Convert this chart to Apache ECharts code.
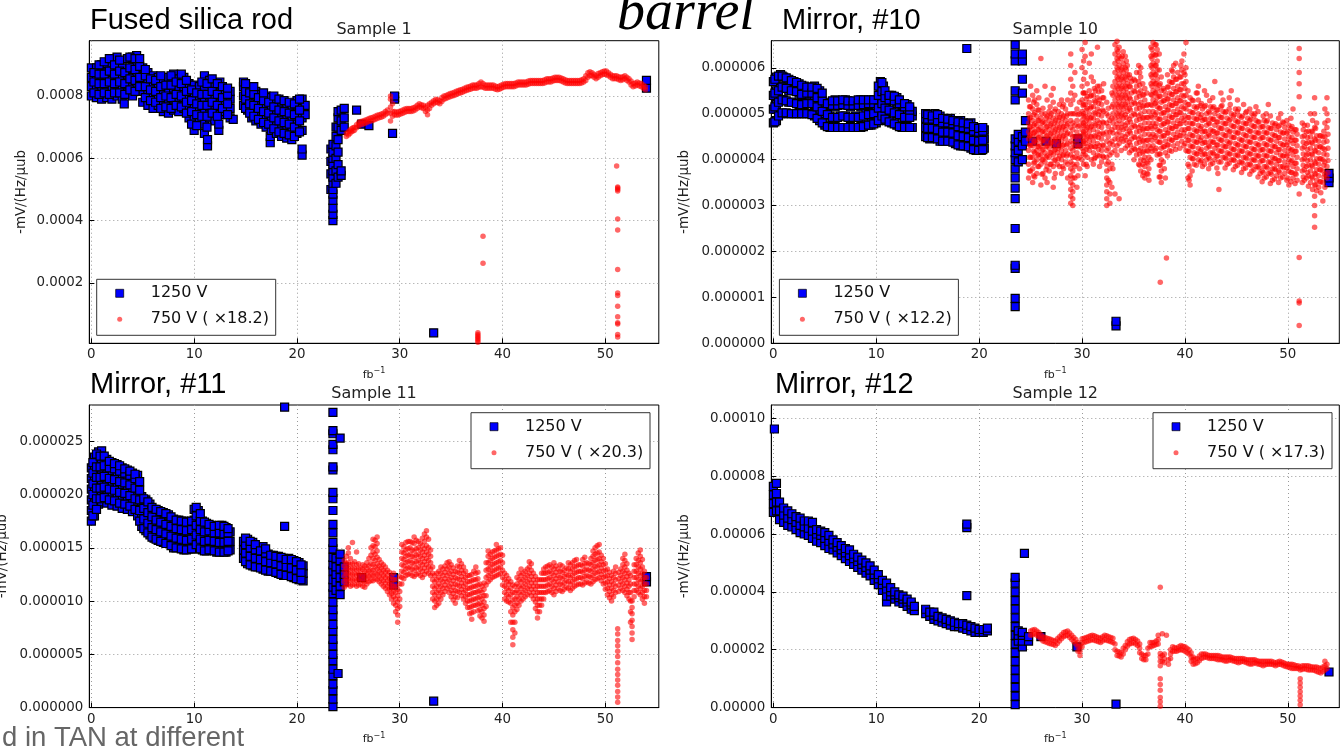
<!DOCTYPE html>
<html>
<head>
<meta charset="utf-8">
<title>Samples 1, 10, 11, 12</title>
<script src="https://cdn.jsdelivr.net/npm/echarts@6/dist/echarts.min.js"></script>
<style>
html, body { margin: 0; padding: 0; background: #fff; }
#main { width: 1340px; height: 746px; }
</style>
</head>
<body>
<div id="main"></div>
<script>
// tick labels
var xTicks = [0, 10, 20, 30, 40, 50];
var s1Ticks = [0.0002, 0.0004, 0.0006, 0.0008];
var s10Ticks = [0, 0.000001, 0.000002, 0.000003, 0.000004, 0.000005, 0.000006];
var s11Ticks = [0, 0.000005, 0.00001, 0.000015, 0.00002, 0.000025];
var s12Ticks = [0, 0.00002, 0.00004, 0.00006, 0.00008, 0.0001];

// data: [fb^-1, [values...]], values in units of 1e-4 / 1e-6 / 1e-5
// Sample 1 (fused silica rod), unit 1e-4
var s1Blue = [
  [0.0,[8.0,8.3,8.6,8.9]],[0.5,[7.95,8.25,8.55,8.9]],[1.0,[7.9,8.2,8.5,8.8,9.0]],[1.5,[7.95,8.3,8.6,9.05]],
  [2.0,[7.9,8.2,8.5,8.8,9.2]],[2.5,[8.0,8.35,8.7,9.25]],[3.0,[7.9,8.2,8.55,8.9]],[3.2,[7.75]],
  [3.5,[8.1,8.4,8.7,9.2]],[4.0,[8.0,8.3,8.6,8.9,9.25]],[4.4,[8.4,8.7,9.0,9.3]],[5.0,[7.8,8.15,8.5,8.9]],
  [5.5,[7.7,8.05,8.4,8.75]],[6.0,[7.6,7.95,8.3,8.65]],[6.5,[7.7,8.0,8.35,8.6]],[7.0,[7.5,7.85,8.2,8.55]],
  [7.5,[7.45,7.8,8.15,8.6]],[8.0,[7.55,7.9,8.25,8.7]],[8.5,[7.5,7.85,8.2,8.55]],[9.0,[7.6,7.95,8.3,8.6]],
  [9.5,[7.3,7.65,8.0,8.4]],[10.0,[6.9,7.3,7.65,8.0,8.35]],[10.5,[7.2,7.55,7.9,8.3]],
  [11.0,[6.8,7.1,7.5,7.85,8.2,8.65]],[11.3,[6.4,6.6]],[11.5,[7.3,7.65,8.0,8.5]],[12.0,[7.2,7.55,7.9,8.3]],
  [12.4,[6.9,7.1]],[12.5,[7.4,7.75,8.1,8.45]],[13.0,[7.5,7.85,8.2]],[13.5,[7.3,7.6,7.9,8.15]],[13.8,[7.25]],
  [14.8,[7.7,8.0,8.3,8.45]],[15.2,[7.55,7.9,8.25]],[15.6,[7.3,7.6,7.95,8.2]],[16.0,[7.2,7.55,7.9,8.15]],
  [16.5,[7.1,7.4,7.75,8.05]],[17.0,[7.0,7.35,7.7,8.0]],[17.4,[6.5,6.7]],[17.5,[6.9,7.25,7.6,7.95]],
  [18.0,[6.8,7.15,7.5,7.9]],[18.5,[6.7,7.05,7.4,7.8]],[19.0,[6.65,7.0,7.35,7.75]],[19.5,[6.6,6.95,7.3,7.7]],
  [20.0,[6.8,7.1,7.45,7.85]],[20.5,[6.1,6.3,6.9,7.3,7.6,7.9]],[20.8,[7.4,7.7]],
  [0.25,[8.1,8.45,8.75]],[0.75,[8.05,8.4,8.7,9.0]],[1.25,[8.1,8.4,8.7,9.1]],[1.75,[8.05,8.45,8.8,9.2]],
  [2.25,[8.1,8.4,8.7,9.0]],[2.75,[8.1,8.45,8.8,9.15]],[3.25,[8.05,8.4,8.75]],[3.75,[8.2,8.55,8.9,9.25]],
  [4.25,[8.15,8.5,8.85,9.2]],[4.7,[8.3,8.6,8.95,9.2]],[5.25,[7.95,8.3,8.65,8.85]],[5.75,[7.85,8.2,8.55]],
  [6.25,[7.8,8.15,8.5]],[6.75,[7.6,7.95,8.3,8.65]],[7.25,[7.65,8.0,8.35]],[7.75,[7.6,7.95,8.35,8.65]],
  [8.25,[7.7,8.05,8.45]],[8.75,[7.65,8.0,8.4,8.7]],[9.25,[7.45,7.8,8.15,8.5]],[9.75,[7.1,7.5,7.85,8.2]],
  [10.25,[7.05,7.4,7.75,8.1]],[10.75,[7.35,7.7,8.05,8.45]],[11.25,[7.0,7.35,7.7,8.05,8.4]],
  [11.75,[7.45,7.8,8.15,8.55]],[12.25,[7.35,7.7,8.05,8.4]],[12.75,[7.6,7.95,8.3]],[13.25,[7.4,7.75,8.05,8.25]],
  [15.0,[7.6,7.9,8.15,8.4]],[15.4,[7.45,7.75,8.1]],[15.8,[7.35,7.7,8.05,8.3]],[16.25,[7.25,7.6,7.95]],
  [16.75,[7.15,7.5,7.85,8.1]],[17.25,[7.1,7.45,7.8]],[17.75,[6.95,7.3,7.65,8.0]],[18.25,[6.85,7.2,7.55,7.9]],
  [18.75,[6.8,7.15,7.5,7.85]],[19.25,[6.75,7.1,7.45,7.8]],[19.75,[6.7,7.0,7.4,7.75]],[20.25,[6.85,7.2,7.55,7.9]],
  [23.3,[5.0,5.5,5.9,6.3]],[23.5,[4.0,4.2,4.4,4.65,4.85,5.0,5.2,5.4,5.6,5.8,6.0,6.2,6.45]],
  [23.8,[5.2,5.6,6.0,6.4,6.7,7.0]],[24.0,[5.4,5.8,6.2,6.6,7.0,7.3,7.5]],[24.3,[5.45,5.6,6.9,7.2,7.55]],
  [24.6,[7.0,7.3,7.6]],[25.8,[7.55]],[26.3,[7.1]],[27.0,[7.05]],[29.3,[6.8]],[29.5,[7.9,8.0]],
  [33.3,[0.4]],[54.0,[8.25,8.5]]
];
var s1Red = [
  [24.8,[6.7,6.8]],[25.0,[6.75,6.85]],[25.3,[6.85,6.95]],[25.6,[6.9,7.0]],[26.0,[7.05,7.15]],[26.4,[7.1,7.2]],
  [26.8,[7.15,7.25]],[27.2,[7.2,7.3]],[27.6,[7.25,7.35]],[28.0,[7.3,7.4]],[28.4,[7.35,7.45]],[28.8,[7.45,7.55]],
  [29.1,[7.2,7.45,7.65,7.9,8.0]],[29.5,[7.4,7.5]],[29.9,[7.4,7.5]],[30.3,[7.45,7.55]],[30.7,[7.5,7.6]],
  [31.1,[7.5,7.6]],[31.5,[7.55,7.65]],[31.9,[7.65,7.75]],[32.3,[7.6,7.7]],[32.7,[7.4,7.55,7.7]],
  [33.1,[7.7,7.8]],[33.5,[7.8,7.9]],[33.9,[7.75,7.85]],[34.3,[7.9,8.0]],[34.7,[7.95,8.05]],[35.1,[8.0,8.1]],
  [35.5,[8.05,8.15]],[35.9,[8.1,8.2]],[36.3,[8.15,8.25]],[36.7,[8.2,8.3]],[37.1,[8.25,8.35]],[37.5,[8.25,8.35]],
  [37.9,[8.3,8.45]],[38.3,[8.25,8.35]],[38.7,[8.25,8.35]],[39.1,[8.25,8.35]],[39.5,[8.2,8.3]],[39.9,[8.25,8.35]],
  [40.3,[8.3,8.4]],[40.7,[8.3,8.4]],[41.1,[8.3,8.4]],[41.5,[8.35,8.45]],[41.9,[8.35,8.45]],[42.3,[8.35,8.45]],
  [42.7,[8.4,8.5]],[43.1,[8.4,8.5]],[43.5,[8.4,8.5]],[43.9,[8.4,8.5]],[44.3,[8.45,8.55]],[44.7,[8.45,8.55]],
  [45.1,[8.5,8.6]],[45.5,[8.5,8.6]],[45.9,[8.45,8.55]],[46.3,[8.4,8.5]],[46.7,[8.4,8.5]],[47.1,[8.4,8.5]],
  [47.5,[8.4,8.5]],[47.9,[8.45,8.55]],[48.3,[8.6,8.75]],[48.7,[8.65,8.75]],[49.1,[8.55,8.65]],[49.5,[8.65,8.75]],
  [49.9,[8.7,8.8]],[50.3,[8.65,8.75]],[50.7,[8.55,8.65]],[51.1,[5.75,8.55,8.65]],[51.5,[8.5,8.6]],
  [51.9,[8.55,8.65]],[52.3,[8.45,8.55]],[52.7,[8.3,8.4]],[53.1,[8.35,8.45]],[53.5,[8.3,8.4]],[53.9,[8.2,8.3]],
  [25.15,[6.8,6.9]],[25.45,[6.88,6.98]],[25.8,[6.98,7.08]],[26.2,[7.08,7.18]],[26.6,[7.12,7.22]],[27.0,[7.18,7.28]],
  [27.4,[7.22,7.32]],[27.8,[7.28,7.38]],[28.2,[7.32,7.42]],[28.6,[7.4,7.5]],[29.3,[7.35,7.5,7.75]],[29.7,[7.38,7.48]],
  [30.1,[7.42,7.52]],[30.5,[7.48,7.58]],[30.9,[7.5,7.6]],[31.3,[7.52,7.62]],[31.7,[7.6,7.7]],[32.1,[7.62,7.72]],
  [32.5,[7.5,7.65]],[32.9,[7.6,7.75]],[33.3,[7.75,7.85]],[33.7,[7.78,7.88]],[34.1,[7.82,7.95]],[34.5,[7.92,8.02]],
  [34.9,[7.98,8.08]],[35.3,[8.02,8.12]],[35.7,[8.08,8.18]],[36.1,[8.12,8.22]],[36.5,[8.18,8.28]],[36.9,[8.22,8.32]],
  [37.3,[8.25,8.35]],[37.7,[8.28,8.4]],[38.1,[8.28,8.4]],[38.5,[8.25,8.35]],[38.9,[8.25,8.35]],[39.3,[8.22,8.32]],
  [39.7,[8.22,8.32]],[40.1,[8.28,8.38]],[40.5,[8.3,8.4]],[40.9,[8.3,8.4]],[41.3,[8.32,8.42]],[41.7,[8.35,8.45]],
  [42.1,[8.35,8.45]],[42.5,[8.38,8.48]],[42.9,[8.4,8.5]],[43.3,[8.4,8.5]],[43.7,[8.4,8.5]],[44.1,[8.42,8.52]],
  [44.5,[8.45,8.55]],[44.9,[8.48,8.58]],[45.3,[8.5,8.6]],[45.7,[8.48,8.58]],[46.1,[8.42,8.52]],[46.5,[8.4,8.5]],
  [46.9,[8.4,8.5]],[47.3,[8.4,8.5]],[47.7,[8.42,8.52]],[48.1,[8.5,8.65]],[48.5,[8.65,8.78]],[48.9,[8.6,8.7]],
  [49.3,[8.6,8.72]],[49.7,[8.68,8.78]],[50.1,[8.68,8.8]],[50.5,[8.6,8.7]],[50.9,[8.55,8.65]],[51.3,[8.52,8.62]],
  [51.7,[8.52,8.62]],[52.1,[8.5,8.6]],[52.5,[8.35,8.48]],[52.9,[8.32,8.42]],[53.3,[8.32,8.42]],[53.7,[8.25,8.35]],
  [37.6,[0.1,0.15,0.2,0.25,0.3,0.35,0.4]],[38.1,[2.63,3.5]],
  [51.2,[0.27,0.35,0.68,0.72,0.92,1.25,1.6,1.68,2.43,3.7,4.05,4.95,5.0,5.05,5.08]]
];

// Sample 10 (mirror #10), unit 1e-6
var s10Blue = [
  [0.0,[4.8,5.1,5.4,5.7]],[0.3,[4.85,5.2,5.5,5.8]],[0.7,[5.0,5.3,5.55,5.85]],[1.0,[5.0,5.3,5.6,5.8]],
  [1.5,[5.0,5.25,5.5,5.75]],[2.0,[5.0,5.25,5.5,5.7]],[2.5,[5.0,5.2,5.45,5.65]],[3.0,[5.0,5.2,5.4,5.6]],
  [3.5,[5.0,5.25,5.5]],[4.0,[4.95,5.2,5.4,5.6]],[4.5,[4.85,5.1,5.3,5.5]],[5.0,[4.75,5.0,5.25]],
  [5.5,[4.7,4.95,5.2]],[6.0,[4.7,4.9,5.15,5.3]],[6.5,[4.7,4.95,5.2]],[7.0,[4.7,4.95,5.2,5.3]],
  [7.5,[4.7,4.9,5.15,5.25]],[8.0,[4.7,4.95,5.2]],[8.5,[4.7,4.9,5.15,5.3]],[9.0,[4.75,5.0,5.25]],
  [9.5,[4.75,4.95,5.2,5.3]],[10.0,[4.8,5.05,5.25]],[10.4,[5.0,5.3,5.55,5.7]],[10.7,[4.9,5.15,5.4,5.6]],
  [11.0,[4.85,5.1,5.3]],[11.5,[4.8,5.05,5.3,5.4]],[12.0,[4.75,5.0,5.25,5.35]],[12.5,[4.7,4.95,5.2]],
  [13.0,[4.7,4.9,5.1,5.2]],[13.5,[4.7,4.95,5.05]],[14.8,[4.5,4.7,4.9,5.0]],[15.2,[4.45,4.65,4.85]],
  [15.7,[4.5,4.7,4.9,5.0]],[16.2,[4.4,4.6,4.8,4.95]],[16.7,[4.4,4.6,4.8]],[17.2,[4.4,4.6,4.8,4.9]],
  [17.7,[4.35,4.55,4.75]],[18.2,[4.3,4.5,4.7,4.85]],[18.7,[4.3,4.5,4.7]],[18.8,[6.42]],
  [19.2,[4.25,4.45,4.65,4.8]],[19.7,[4.2,4.4,4.6]],[20.2,[4.2,4.4,4.6,4.7]],[20.5,[4.25,4.45,4.65]],
  [0.15,[4.82,5.15,5.45,5.75]],[0.5,[4.95,5.25,5.5,5.82]],[0.85,[5.02,5.3,5.58,5.82]],[1.25,[5.02,5.28,5.55,5.78]],
  [1.75,[5.0,5.25,5.5,5.72]],[2.25,[5.0,5.22,5.48,5.68]],[2.75,[5.0,5.2,5.42,5.62]],[3.25,[5.0,5.22,5.45,5.58]],
  [3.75,[4.98,5.22,5.45,5.58]],[4.25,[4.9,5.15,5.35,5.55]],[4.75,[4.8,5.05,5.28,5.45]],[5.25,[4.72,4.98,5.22]],
  [5.75,[4.7,4.92,5.18,5.28]],[6.25,[4.7,4.92,5.18,5.28]],[6.75,[4.7,4.95,5.2,5.3]],[7.25,[4.7,4.92,5.18,5.28]],
  [7.75,[4.7,4.92,5.18,5.28]],[8.25,[4.7,4.92,5.18,5.3]],[8.75,[4.72,4.95,5.2,5.3]],[9.25,[4.75,4.98,5.22,5.3]],
  [9.75,[4.78,5.0,5.22,5.3]],[10.2,[4.85,5.12,5.4,5.6]],[10.55,[4.95,5.22,5.48,5.68]],[10.85,[4.88,5.12,5.35,5.5]],
  [11.25,[4.82,5.08,5.3,5.4]],[11.75,[4.78,5.02,5.28,5.38]],[12.25,[4.72,4.98,5.22,5.3]],[12.75,[4.7,4.92,5.15,5.22]],
  [13.25,[4.7,4.92,5.08,5.15]],[15.0,[4.48,4.68,4.88,4.98]],[15.45,[4.48,4.68,4.88,4.95]],[15.95,[4.45,4.65,4.85,4.98]],
  [16.45,[4.4,4.6,4.8,4.9]],[16.95,[4.4,4.6,4.8,4.88]],[17.45,[4.38,4.58,4.78,4.85]],[17.95,[4.32,4.52,4.72,4.82]],
  [18.45,[4.3,4.5,4.7,4.8]],[18.95,[4.28,4.48,4.68,4.78]],[19.45,[4.22,4.42,4.62,4.72]],[19.95,[4.2,4.4,4.6,4.68]],
  [20.35,[4.22,4.42,4.62,4.7]],
  [23.5,[0.8,0.98,1.63,1.7,2.5,3.15,3.38,3.6,3.8,4.0,4.15,4.3,4.45,5.3,5.5,6.15,6.3,6.5,6.6]],
  [23.8,[3.95,4.2,4.4,4.55]],[24.2,[4.0,4.3,4.5,5.45,5.75,6.15,6.3]],[24.5,[4.4,4.6,4.85]],
  [25.2,[4.4]],[26.5,[4.4]],[27.5,[4.35]],[29.6,[4.35,4.45]],[33.3,[0.38,0.48]],[54.0,[3.5,3.6,3.7]]
];
var s10Red = [
  [24.8,[3.6,3.9,4.2,4.45,4.6,4.8,5.0,5.3]],[25.2,[3.5,3.8,4.05,4.3,4.5,4.65,4.85,5.1,5.4]],
  [25.6,[3.7,4.0,4.2,4.35,4.55,4.75,4.95,5.2,5.5]],[26.0,[3.45,3.9,4.1,4.3,4.5,4.7,4.9,6.2]],
  [26.4,[3.6,3.95,4.15,4.4,4.6,4.8,5.0,5.6]],[26.8,[3.75,4.05,4.25,4.45,4.65,4.85,5.05]],
  [27.2,[3.4,3.85,4.1,4.3,4.5,4.7,4.9,5.25,5.55]],[27.6,[3.9,4.15,4.35,4.55,4.75,4.95]],
  [28.0,[3.7,4.0,4.2,4.4,4.6,4.8,5.0,5.3]],[28.4,[3.95,4.2,4.45,4.65,4.85,5.1]],
  [28.9,[3.05,3.2,3.35,3.5,3.65,3.8,3.95,4.1,4.25,4.4,4.55,4.7,4.85,5.0,5.2,5.45,5.75,6.05,6.3]],
  [29.1,[3.0,3.15,3.3,3.45,3.6,3.75,3.9,4.05,4.2,4.35,4.5,4.65,4.8,5.0,5.3,5.6]],
  [29.5,[3.4,3.9,4.15,4.4,4.6,4.85,5.1]],[30.0,[4.0,4.25,4.45,4.65,4.85,5.05,5.3,5.6,6.0,6.4,6.6]],
  [30.3,[3.65,4.1,4.35,4.55,4.75,4.95,5.2,5.45,5.9,6.25,6.55]],[30.7,[4.2,4.4,4.6,4.8,5.0,5.25,5.5,6.1]],
  [31.1,[3.9,4.15,4.4,4.65,4.9,5.15,5.4,5.7]],[31.5,[4.1,4.35,4.6,4.85,5.1,5.35,5.6,6.45]],
  [31.9,[3.95,4.2,4.45,4.7,4.95,5.2,5.5]],
  [32.4,[3.0,3.15,3.3,3.45,3.6,3.75,3.9,4.05,4.2,4.4,4.6,4.8,5.0,5.25]],
  [32.7,[3.05,3.25,3.5,3.8,4.1,4.35,4.6,4.85]],
  [33.2,[3.25,4.2,4.45,4.7,4.9,5.1,5.3,5.5,5.7,5.9,6.1,6.3,6.5]],
  [33.6,[3.15,4.35,4.6,4.85,5.05,5.25,5.45,5.65,5.85,6.05,6.25,6.45]],
  [34.0,[4.4,4.65,4.9,5.1,5.3,5.5,5.7,5.9,6.1,6.35]],[34.4,[4.3,4.55,4.8,5.05,5.25,5.45,5.65,5.85,6.05]],
  [34.8,[4.2,4.45,4.7,4.95,5.2,5.45,5.7]],[35.3,[4.1,4.35,4.6,4.85,5.1,5.35,5.6,5.9]],
  [35.7,[3.75,4.0,4.25,4.5,4.75,5.0,5.25,5.5,5.8,6.0]],[36.1,[3.6,3.85,4.05,4.3,4.55,4.8,5.05,5.3,5.55]],
  [36.5,[3.55,3.8,4.05,4.3,4.55,4.8,5.05]],[36.9,[4.3,4.55,4.8,5.05,5.3,5.5,5.7,5.9,6.1,6.3,6.55]],
  [37.3,[4.1,4.4,4.65,4.9,5.15,5.35,5.55,5.75,5.95,6.15,6.4,6.6]],
  [37.7,[3.5,3.75,4.0,4.25,4.5,4.75,5.0,5.25,5.5,5.8]],[38.1,[3.6,4.15,4.4,4.65,4.9,5.15,5.4]],
  [38.5,[4.2,4.45,4.7,4.95,5.2,5.45,5.7]],[38.9,[4.3,4.55,4.8,5.05,5.3,5.55,5.8,6.05]],
  [39.3,[4.35,4.6,4.85,5.1,5.35,5.6,5.9]],[39.7,[4.4,4.65,4.9,5.15,5.4,5.65,5.95,6.15]],
  [40.1,[4.2,4.5,4.8,5.1,5.4,5.7,6.0,6.55]],[40.5,[3.45,3.65,4.05,4.3,4.55,4.8,5.05,5.35]],
  [40.9,[3.9,4.15,4.4,4.65,4.9,5.15]],[41.3,[4.0,4.25,4.5,4.75,5.0,5.3,5.6]],
  [41.7,[3.85,4.1,4.35,4.6,4.85,5.1]],[42.1,[4.0,4.25,4.5,4.75,5.0,5.4]],[42.5,[3.9,4.15,4.4,4.65,4.9,5.15]],
  [42.9,[4.0,4.25,4.5,4.75,5.0,5.7]],[43.3,[3.35,3.95,4.2,4.45,4.7,4.95]],[43.7,[4.05,4.3,4.55,4.8,5.05,5.3]],
  [44.1,[3.9,4.15,4.4,4.65,4.9]],[44.5,[4.0,4.25,4.5,4.75,5.0,5.5]],[44.9,[3.85,4.1,4.35,4.6,4.85,5.1]],
  [45.3,[3.95,4.2,4.45,4.7,4.95]],[45.7,[3.8,4.05,4.3,4.55,4.8,5.2]],[46.1,[3.9,4.15,4.4,4.65,4.9]],
  [46.5,[3.75,4.0,4.25,4.5,4.75,5.0]],[46.9,[3.85,4.1,4.35,4.6,4.85,5.15]],[47.3,[3.7,3.95,4.2,4.45,4.7]],
  [47.7,[3.6,3.85,4.1,4.35,4.6,4.85]],[48.1,[3.7,3.95,4.2,4.45,4.7,5.2]],[48.5,[3.55,3.8,4.05,4.3,4.55,4.8]],
  [48.9,[3.65,3.9,4.15,4.4,4.65]],[49.3,[3.6,3.85,4.1,4.35,4.6,5.0]],[49.7,[3.7,3.95,4.2,4.45,4.7]],
  [50.1,[3.45,3.75,4.0,4.25,4.5,4.75]],[50.5,[3.6,3.85,4.1,4.35,4.6,5.1]],[50.9,[3.55,3.8,4.05,4.3,4.55]],
  [51.1,[0.39,0.88,0.92,1.87,3.25,5.37,5.65,5.9,6.2,6.42]],[51.4,[3.5,3.75,4.0,4.25,4.5,4.8]],
  [51.8,[3.6,3.85,4.1,4.35,4.6]],[52.2,[3.5,3.75,4.0,4.25,4.5,5.0]],
  [52.6,[2.53,2.78,3.0,3.2,3.45,3.7,3.95,4.2,4.45,4.7,5.0,5.35]],[53.0,[3.4,3.65,3.9,4.15,4.4]],
  [53.4,[3.1,3.5,3.75,4.0,4.25,4.5]],[53.8,[3.6,3.85,4.1,4.4,4.7,5.0,5.35]],
  [25.0,[3.75,4.05,4.3,4.55,4.72,4.92,5.15,5.6]],[25.4,[3.62,3.95,4.15,4.4,4.6,4.78,5.02,5.3]],
  [25.8,[3.85,4.1,4.28,4.48,4.65,4.85,5.08,5.35]],[26.2,[3.7,4.0,4.22,4.42,4.62,4.82,5.12]],
  [26.6,[3.5,3.85,4.08,4.3,4.52,4.72,4.95,5.3]],[27.0,[3.9,4.15,4.38,4.58,4.78,5.0,5.4]],
  [27.4,[3.7,4.0,4.22,4.45,4.65,4.85,5.1]],[27.8,[3.85,4.08,4.3,4.5,4.7,4.92,5.2]],
  [28.2,[3.8,4.1,4.32,4.52,4.72,4.95,5.2]],[28.6,[3.6,3.9,4.12,4.35,4.58,4.78,5.0,5.3]],
  [29.3,[3.6,3.85,4.05,4.28,4.5,4.75,5.0,5.4,5.9]],[29.75,[3.8,4.05,4.3,4.52,4.75,5.0,5.25]],
  [30.15,[3.9,4.18,4.4,4.6,4.8,5.0,5.2,5.45,5.75,6.15]],[30.5,[3.85,4.05,4.28,4.5,4.7,4.9,5.12,5.38,5.65]],
  [30.9,[4.0,4.28,4.5,4.72,4.92,5.15,5.4,5.8,6.3]],[31.3,[4.05,4.28,4.5,4.75,5.0,5.25,5.5]],
  [31.7,[3.85,4.08,4.3,4.55,4.8,5.05,5.3,5.6]],[32.1,[4.05,4.3,4.55,4.8,5.05,5.35,5.65]],
  [32.9,[3.4,3.9,4.15,4.4,4.65,4.9,5.15,5.45]],
  [33.4,[4.1,4.3,4.55,4.78,5.0,5.2,5.4,5.6,5.8,6.0,6.2,6.4,6.58]],
  [33.8,[4.2,4.45,4.7,4.95,5.15,5.35,5.55,5.75,5.95,6.2]],[34.2,[4.25,4.5,4.75,4.98,5.2,5.4,5.6,5.8,6.0,6.25]],
  [34.6,[4.15,4.38,4.62,4.88,5.12,5.35,5.6,5.85]],[35.05,[4.0,4.25,4.5,4.75,5.0,5.25,5.5,5.75]],
  [35.5,[3.9,4.2,4.45,4.7,4.95,5.2,5.45,5.7,6.05]],[35.9,[3.65,3.9,4.15,4.4,4.65,4.9,5.15,5.4,5.65]],
  [36.3,[3.7,3.95,4.2,4.42,4.68,4.92,5.18,5.45]],[36.7,[4.0,4.25,4.5,4.72,4.95,5.2,5.42,5.65,5.85,6.05,6.25,6.45]],
  [37.1,[4.2,4.48,4.72,4.98,5.22,5.45,5.65,5.85,6.05,6.28,6.5]],
  [37.5,[3.62,3.88,4.12,4.38,4.62,4.88,5.12,5.38,5.62,5.95,6.3]],[37.9,[3.95,4.28,4.52,4.78,5.02,5.28,5.55]],
  [38.3,[4.08,4.32,4.58,4.82,5.08,5.32,5.58,5.85]],[38.7,[4.18,4.42,4.68,4.92,5.18,5.42,5.68,5.95]],
  [39.1,[4.22,4.48,4.72,4.98,5.22,5.48,5.75,6.1]],[39.5,[4.25,4.52,4.78,5.02,5.28,5.52,5.8]],
  [39.9,[4.3,4.58,4.85,5.12,5.38,5.65,5.9,6.3]],[40.3,[3.6,3.9,4.18,4.42,4.68,4.92,5.2,5.5]],
  [40.7,[3.75,4.02,4.28,4.52,4.78,5.02,5.3]],[41.1,[3.88,4.12,4.38,4.62,4.88,5.12,5.45]],
  [41.5,[3.95,4.18,4.42,4.68,4.92,5.18]],[41.9,[3.9,4.12,4.38,4.62,4.88,5.15,5.5]],
  [42.3,[3.8,4.05,4.3,4.55,4.8,5.05]],[42.7,[3.92,4.15,4.38,4.62,4.88,5.12,5.35]],
  [43.1,[3.82,4.08,4.32,4.58,4.82,5.08]],[43.5,[3.95,4.18,4.42,4.68,4.92,5.15,5.45]],
  [43.9,[3.82,4.05,4.28,4.52,4.78,5.02]],[44.3,[3.92,4.12,4.35,4.6,4.85,5.1,5.35]],
  [44.7,[3.78,4.0,4.22,4.48,4.72,4.95]],[45.1,[3.88,4.1,4.32,4.58,4.82,5.05,5.3]],
  [45.5,[3.72,3.95,4.18,4.42,4.68,4.92]],[45.9,[3.82,4.05,4.28,4.52,4.78,5.02]],
  [46.3,[3.68,3.9,4.12,4.38,4.62,4.85,5.1]],[46.7,[3.78,4.0,4.22,4.48,4.72,4.95]],
  [47.1,[3.62,3.85,4.08,4.32,4.58,4.82,5.05]],[47.5,[3.52,3.75,3.98,4.22,4.48,4.72]],
  [47.9,[3.62,3.85,4.08,4.32,4.58,4.82,5.0]],[48.3,[3.48,3.72,3.95,4.18,4.42,4.68,4.95]],
  [48.7,[3.58,3.8,4.02,4.28,4.52,4.75]],[49.1,[3.5,3.75,3.98,4.22,4.48,4.72,4.9]],
  [49.5,[3.62,3.85,4.08,4.32,4.58,4.82]],[49.9,[3.55,3.82,4.08,4.32,4.58,4.85]],
  [50.3,[3.52,3.72,3.95,4.2,4.42,4.68,4.9]],[50.7,[3.48,3.7,3.92,4.18,4.42,4.65]],
  [51.6,[3.55,3.78,4.02,4.28,4.52,4.75]],[52.0,[3.42,3.65,3.88,4.12,4.38,4.62]],
  [52.4,[3.35,3.6,3.85,4.1,4.35,4.6,4.85]],[52.8,[3.32,3.55,3.78,4.02,4.28,4.52,4.8]],
  [53.2,[3.28,3.52,3.78,4.02,4.28,4.52]],[53.6,[3.4,3.68,3.95,4.22,4.5,4.8,5.1]],
  [24.9,[3.75,4.05,4.32,4.52,4.7,4.9,5.15]],[25.3,[3.65,3.92,4.18,4.4,4.58,4.75,4.98,5.25]],
  [25.7,[3.85,4.1,4.28,4.45,4.65,4.85,5.08]],[26.1,[3.68,4.0,4.2,4.4,4.6,4.8,5.0]],
  [26.5,[3.78,4.05,4.28,4.5,4.7,4.9]],[26.9,[3.9,4.15,4.35,4.55,4.75,4.95,5.15]],
  [27.3,[3.6,3.98,4.2,4.4,4.6,4.8,5.05]],[27.7,[4.02,4.25,4.45,4.65,4.85,5.05]],
  [28.1,[3.85,4.1,4.3,4.5,4.7,4.9,5.15]],[28.5,[4.08,4.32,4.55,4.75,4.95]],
  [29.6,[3.65,4.02,4.28,4.5,4.72,4.98]],[30.1,[4.12,4.35,4.55,4.75,4.95,5.18,5.45]],
  [30.4,[3.9,4.22,4.45,4.65,4.85,5.08,5.32]],[30.8,[4.3,4.5,4.7,4.9,5.12,5.38]],
  [31.2,[4.02,4.28,4.52,4.78,5.02,5.28,5.55]],[31.6,[4.22,4.48,4.72,4.98,5.22,5.48]],
  [32.0,[4.08,4.32,4.58,4.82,5.08,5.35]],[32.55,[3.55,3.95,4.25,4.5,4.72,4.95,5.12]],
  [33.0,[3.8,4.32,4.58,4.8,5.0,5.2,5.4,5.6]],[33.5,[4.45,4.7,4.95,5.15,5.35,5.55,5.75,5.95,6.15,6.35]],
  [33.9,[4.52,4.78,5.0,5.2,5.4,5.6,5.8,6.0,6.25]],[34.3,[4.42,4.68,4.92,5.15,5.35,5.55,5.75,5.95,6.15]],
  [34.7,[4.32,4.58,4.82,5.08,5.32,5.58,5.78]],[35.15,[4.22,4.48,4.72,4.98,5.22,5.48,5.72]],
  [35.6,[3.88,4.12,4.38,4.62,4.88,5.12,5.38,5.62,5.9]],[36.0,[3.72,3.98,4.18,4.42,4.68,4.92,5.18,5.42]],
  [36.4,[3.68,3.92,4.18,4.42,4.68,4.92,5.2]],[36.8,[4.18,4.42,4.68,4.92,5.18,5.4,5.6,5.8,6.0,6.2,6.4]],
  [37.2,[4.25,4.52,4.78,5.02,5.25,5.45,5.65,5.85,6.05,6.28,6.5]],[37.6,[3.62,3.88,4.12,4.38,4.62,4.88,5.12,5.38,5.65]],
  [38.0,[3.8,4.28,4.52,4.78,5.02,5.28,5.5]],[38.4,[4.32,4.58,4.82,5.08,5.32,5.58]],
  [38.8,[4.42,4.68,4.92,5.18,5.42,5.68,5.92]],[39.2,[4.48,4.72,4.98,5.22,5.48,5.75]],
  [39.6,[4.52,4.78,5.02,5.28,5.52,5.8,6.05]],[40.0,[4.35,4.65,4.95,5.25,5.55,5.85]],
  [40.4,[3.55,3.85,4.18,4.42,4.68,4.92,5.2]],[40.8,[4.02,4.28,4.52,4.78,5.02,5.28]],
  [41.2,[4.12,4.38,4.62,4.88,5.15,5.45]],[41.6,[3.98,4.22,4.48,4.72,4.98,5.22]],
  [42.0,[4.12,4.38,4.62,4.88,5.18]],[42.4,[4.02,4.28,4.52,4.78,5.02,5.28]],
  [42.8,[4.12,4.38,4.62,4.88,5.15]],[43.2,[3.7,4.08,4.32,4.58,4.82,5.08]],
  [43.6,[4.18,4.42,4.68,4.92,5.18]],[44.0,[4.02,4.28,4.52,4.78,5.05]],
  [44.4,[4.12,4.38,4.62,4.88,5.2]],[44.8,[3.98,4.22,4.48,4.72,4.98]],
  [45.2,[4.08,4.32,4.58,4.82,5.1]],[45.6,[3.92,4.18,4.42,4.68,4.95]],
  [46.0,[4.02,4.28,4.52,4.78,5.05]],[46.4,[3.88,4.12,4.38,4.62,4.88]],
  [46.8,[3.98,4.22,4.48,4.72,5.0]],[47.2,[3.82,4.08,4.32,4.58,4.82]],
  [47.6,[3.72,3.98,4.22,4.48,4.72,4.95]],[48.0,[3.82,4.08,4.32,4.58,4.85]],
  [48.4,[3.68,3.92,4.18,4.42,4.68]],[48.8,[3.78,4.02,4.28,4.52,4.78]],
  [49.2,[3.72,3.98,4.22,4.48,4.75]],[49.6,[3.82,4.08,4.32,4.58,4.8]],
  [50.0,[3.6,3.88,4.12,4.38,4.62]],[50.4,[3.72,3.98,4.22,4.48,4.72]],
  [50.8,[3.68,3.92,4.18,4.42,4.65]],[51.5,[3.62,3.88,4.12,4.38,4.65]],
  [51.9,[3.72,3.98,4.22,4.48,4.75]],[52.3,[3.62,3.88,4.12,4.38,4.62]],
  [52.7,[3.45,3.68,3.92,4.18,4.42,4.68]],[53.1,[3.52,3.78,4.02,4.28,4.52]],
  [53.5,[3.62,3.88,4.12,4.38,4.62]],[53.9,[3.72,3.98,4.25,4.55,4.85]],
  [37.6,[1.33]],[38.2,[1.86]]
];

// Sample 11 (mirror #11), unit 1e-6
var s11Blue = [
  [0.0,[17.5,18.5,19.5,20.5,21.5,22.5]],[0.3,[18.0,19.2,20.3,21.4,22.5,23.5]],[0.7,[19.1,20.1,21.1,22.1,23.1,24.0]],
  [1.0,[19.3,20.3,21.3,22.3,23.3,24.1]],[1.5,[19.2,20.2,21.2,22.2,23.3]],[2.0,[19.0,20.0,21.0,22.0,23.0]],
  [2.5,[18.9,19.9,20.9,21.9,22.8]],[3.0,[18.7,19.7,20.7,21.6,22.5]],[3.5,[18.6,19.6,20.6,21.5,22.3]],
  [4.0,[18.4,19.4,20.4,21.3,22.0]],[4.5,[18.0,19.0,20.0,21.0,21.8]],[4.9,[17.0,17.9,18.9,19.8]],
  [5.3,[16.6,17.5,18.5,19.5]],[5.7,[16.2,17.1,18.1,19.1]],[6.1,[15.9,16.8,17.7,18.6]],[6.5,[15.7,16.6,17.5,18.5]],
  [7.0,[15.5,16.4,17.3,18.3]],[7.5,[15.4,16.3,17.2,18.1]],[8.0,[15.0,15.9,16.8,17.7]],[8.5,[15.1,16.0,16.9,17.6]],
  [9.0,[14.8,15.7,16.6,17.5]],[9.5,[14.9,15.8,16.7,17.4]],[10.0,[14.9,15.8,16.7,17.6,18.6]],
  [10.4,[15.0,15.9,16.8,17.6,18.5]],[10.8,[14.8,15.7,16.6,17.5]],[11.2,[14.7,15.6,16.5,17.3]],
  [11.7,[14.8,15.6,16.4,17.1]],[12.2,[14.6,15.5,16.4,17.0]],[12.7,[14.7,15.6,16.4,17.1]],
  [13.1,[14.6,15.5,16.3,16.9]],[13.5,[14.8,15.6,16.5]],[14.8,[14.0,14.8,15.6]],[15.2,[13.5,14.3,15.1,15.8]],
  [15.7,[13.3,14.1,14.9,15.5]],[16.2,[13.2,14.0,14.8]],[16.7,[13.0,13.8,14.6,15.1]],[17.2,[12.8,13.6,14.4]],
  [17.7,[12.8,13.6,14.3]],[18.2,[12.6,13.4,14.2]],[18.7,[12.4,13.2,14.0]],[18.8,[17.0,28.2]],
  [19.2,[12.4,13.2,14.0]],[19.7,[12.2,13.0,13.8]],[20.2,[12.0,12.8,13.6]],[20.6,[11.9,12.6,13.3]],
  [0.15,[18.0,19.0,20.0,21.0,22.0,23.0]],[0.5,[18.6,19.6,20.6,21.6,22.6,23.8]],[0.85,[19.6,20.6,21.6,22.6,23.6]],
  [1.25,[19.7,20.7,21.7,22.7,23.6]],[1.75,[19.5,20.5,21.5,22.5,23.1]],[2.25,[19.4,20.4,21.4,22.4,22.9]],
  [2.75,[19.2,20.2,21.2,22.2,22.7]],[3.25,[19.1,20.1,21.1,22.0,22.4]],[3.75,[18.9,19.9,20.9,21.8,22.2]],
  [4.25,[18.6,19.6,20.6,21.5,21.9]],[4.7,[17.5,18.5,19.5,20.4,21.2]],[5.1,[16.8,17.7,18.7,19.6]],
  [5.5,[16.4,17.3,18.3,19.3]],[5.9,[16.0,16.9,17.9,18.8]],[6.3,[15.8,16.7,17.6,18.6]],[6.75,[15.6,16.5,17.4,18.4]],
  [7.25,[15.4,16.3,17.2,18.2]],[7.75,[15.2,16.1,17.0,17.9]],[8.25,[15.0,15.9,16.8,17.6]],[8.75,[14.9,15.8,16.7,17.5]],
  [9.25,[14.8,15.7,16.6,17.4]],[9.75,[14.9,15.8,16.7,17.5]],[10.2,[15.3,16.2,17.1,18.0,18.8]],
  [10.6,[14.9,15.8,16.7,17.5,18.2]],[11.0,[14.7,15.6,16.5,17.4]],[11.45,[14.8,15.7,16.6,17.2]],
  [11.95,[14.7,15.6,16.4,17.0]],[12.45,[14.6,15.5,16.4,17.1]],[12.9,[14.6,15.5,16.3,17.0]],[13.3,[14.7,15.6,16.4,16.8]],
  [15.0,[13.7,14.5,15.3,15.9]],[15.45,[13.4,14.2,15.0,15.6]],[15.95,[13.2,14.0,14.8,15.3]],[16.45,[13.1,13.9,14.7]],
  [16.95,[12.9,13.7,14.5,14.9]],[17.45,[12.8,13.6,14.3]],[17.95,[12.7,13.5,14.2]],[18.45,[12.5,13.3,14.1]],
  [18.95,[12.4,13.2,13.9]],[19.45,[12.3,13.1,13.9]],[19.95,[12.1,12.9,13.7]],[20.4,[12.0,12.7,13.4]],
  [23.5,[0.1,0.8,1.6,2.2,3.0,3.6,4.4,5.0,5.8,6.4,7.2,7.8,8.6,9.2,9.9,10.7,11.3,12.0,12.8,13.4,14.1,14.9,15.5,16.4,17.2,18.5,19.6,20.2,22.3,22.6,24.2,24.7,25.7,26.0,27.7]],
  [23.8,[11.0,11.8,12.5,13.2,14.0]],[24.0,[3.2]],[24.2,[10.6,11.4,12.2,13.0,13.8,14.4,25.3]],
  [24.6,[11.8,12.5,13.2]],[26.3,[12.2]],[29.4,[11.5,12.2]],[33.3,[0.6]],[54.0,[11.8,12.3]]
];
var s11Red = [
  [24.6,[11.3,11.8,12.3,12.8,13.3,13.8]],[25.0,[11.6,12.1,12.6,13.1,13.6,14.5,15.0]],
  [25.4,[11.5,12.0,12.5,13.0,13.5,15.5]],[25.8,[11.4,11.9,12.4,12.9,13.4,14.6]],[26.2,[11.6,12.1,12.6,13.1]],
  [26.6,[11.3,11.8,12.3,12.8,13.3]],[27.0,[11.8,12.3,12.8,13.3,14.0]],
  [27.4,[11.9,12.4,12.9,13.4,14.0,14.6,15.2,15.8]],[27.8,[12.0,12.5,13.0,13.5,14.1,14.7,15.4,16.0]],
  [28.2,[11.6,12.1,12.6,13.1,13.6]],[28.6,[11.2,11.7,12.2,12.7,13.2]],[29.0,[10.6,11.1,11.6,12.1,12.7]],
  [29.4,[9.8,10.4,10.9,11.4,12.0,12.6]],[29.8,[8.0,8.7,9.3,9.9,10.5,11.1]],
  [30.2,[11.6,12.2,12.8,13.4,14.0,14.6,15.3]],[30.6,[12.4,13.0,13.6,14.2,14.8,15.5]],
  [31.0,[12.6,13.2,13.8,14.4,15.0,15.6]],[31.4,[12.3,12.9,13.5,14.1,14.7,15.4,16.0]],
  [31.8,[12.6,13.2,13.8,14.4,15.0,15.6]],[32.2,[12.2,12.8,13.4,14.0,14.6,15.2,15.9]],
  [32.6,[12.8,13.4,14.0,14.6,15.2,16.0,16.6]],[33.0,[12.4,13.0,13.6,14.2,14.8]],
  [33.4,[9.4,10.0,10.6,11.2,11.8,12.4]],[33.8,[9.8,10.4,11.0,11.6,12.2,12.8]],[34.2,[10.6,11.2,11.8,12.4,13.0]],
  [34.6,[11.2,11.8,12.4,13.0,13.6]],[35.0,[10.4,11.0,11.6,12.2,12.8,13.4]],[35.4,[9.8,10.4,11.0,11.6,12.2,12.8]],
  [35.8,[10.8,11.4,12.0,12.6,13.2,13.8]],[36.2,[10.2,10.8,11.4,12.0,12.6,13.2]],[36.6,[9.4,10.0,10.6,11.2,11.8,12.4]],
  [37.0,[8.3,8.9,9.5,10.1,10.7,11.3,11.9,12.5]],[37.4,[9.6,10.2,10.8,11.4,12.0,12.6,13.2]],
  [37.8,[8.6,9.2,9.8,10.4,11.0,11.6]],[38.2,[8.1,8.7,9.3,9.9,10.5,11.1,11.7]],
  [38.6,[11.8,12.4,13.0,13.6,14.2,14.7]],[39.0,[12.2,12.8,13.4,14.0,14.6]],[39.4,[12.4,13.0,13.6,14.2,14.8,15.3]],
  [39.8,[12.6,13.2,13.8,14.4,15.0]],[40.2,[10.2,10.8,11.4,12.0,12.6]],[40.6,[9.9,10.4,11.0,11.6,12.1]],
  [41.0,[5.9,6.6,7.3,8.0,8.7,9.4,10.1,10.8,11.5]],[41.4,[9.2,9.8,10.4,11.0,11.6,12.2]],
  [41.8,[10.0,10.6,11.2,11.8,12.4,13.0]],[42.2,[10.4,11.0,11.6,12.2,12.8]],[42.6,[10.8,11.4,12.0,12.6,13.2,13.7]],
  [43.0,[10.2,10.8,11.4,12.0,12.6]],[43.4,[8.4,9.0,9.6,10.2,10.8,11.4,12.0]],[43.8,[9.6,10.2,10.8,11.4,12.0,12.6]],
  [44.2,[10.8,11.4,12.0,12.6,13.2]],[44.6,[11.0,11.6,12.2,12.8,13.4]],[45.0,[10.6,11.2,11.8,12.4,13.0,13.6]],
  [45.4,[11.2,11.8,12.4,13.0]],[45.8,[10.9,11.5,12.1,12.7,13.3]],[46.2,[11.3,11.9,12.5,13.1]],
  [46.6,[11.0,11.6,12.2,12.8,13.4]],[47.0,[11.4,12.0,12.6,13.2,13.8]],[47.4,[11.6,12.2,12.8,13.4]],
  [47.8,[11.5,12.1,12.7,13.3,13.9]],[48.2,[11.8,12.4,13.0,13.6]],[48.6,[11.6,12.2,12.8,13.4,14.0]],
  [49.0,[12.0,12.6,13.2,13.8,14.4,15.0]],[49.4,[12.2,12.8,13.4,14.0,14.6,15.3]],[49.8,[11.6,12.2,12.8,13.4,14.0]],
  [50.2,[10.6,11.2,11.8,12.4,13.0]],[50.6,[10.0,10.6,11.2,11.8,12.4]],[51.0,[10.8,11.4,12.0,12.6,13.2]],
  [51.2,[0.5,1.0,1.5,2.1,2.6,3.1,3.6,4.2,4.8,5.3,5.8,6.3,6.9,7.4]],[51.5,[11.2,11.8,12.4,13.0]],
  [51.9,[10.8,11.4,12.0,12.6,13.2,13.8,14.4]],[52.3,[10.2,10.8,11.4,12.0,12.6]],
  [52.6,[6.4,7.0,7.6,8.2,8.8,9.4,10.0]],[53.0,[11.0,11.6,12.2,12.8,13.4,14.0]],
  [53.4,[10.6,11.2,11.8,12.4,13.0,13.6,14.2,14.8]],[53.8,[9.8,10.4,11.0,11.6,12.2,12.8]],
  [24.8,[11.5,12.0,12.55,13.05,13.55,14.2]],[25.2,[11.4,11.9,12.4,12.9,13.4,14.0]],[25.6,[11.6,12.1,12.6,13.1,13.7]],
  [26.0,[11.5,12.0,12.5,13.0,13.5]],[26.4,[11.4,11.9,12.4,12.95,13.4]],[26.8,[11.6,12.1,12.6,13.1,13.6]],
  [27.2,[11.9,12.4,12.9,13.5,14.3,15.0]],[27.6,[12.1,12.6,13.2,13.8,14.4,15.1,15.7]],[28.0,[11.8,12.3,12.8,13.3,13.9]],
  [28.4,[11.4,11.9,12.4,12.9,13.4]],[28.8,[10.9,11.4,11.9,12.4,12.9]],[29.2,[10.2,10.7,11.2,11.7,12.3]],
  [29.6,[9.0,9.6,10.2,10.8,11.4,12.0]],[30.0,[9.5,10.2,10.9,11.6,12.3]],[30.4,[12.1,12.7,13.3,13.9,14.5,15.1]],
  [30.8,[12.5,13.1,13.7,14.3,14.9,15.6]],[31.2,[12.4,13.0,13.6,14.2,14.8,15.5]],[31.6,[12.5,13.1,13.7,14.3,14.9,15.7]],
  [32.0,[12.4,13.0,13.6,14.2,14.8,15.4]],[32.4,[12.5,13.1,13.7,14.3,14.9,15.6,16.3]],[32.8,[12.6,13.2,13.8,14.4,15.0,15.8]],
  [33.2,[10.2,10.8,11.4,12.0,12.6,13.2]],[33.6,[9.6,10.2,10.8,11.4,12.0,12.6]],[34.0,[10.2,10.8,11.4,12.0,12.6,13.2]],
  [34.4,[10.9,11.5,12.1,12.7,13.3]],[34.8,[10.8,11.4,12.0,12.6,13.2,13.7]],[35.2,[10.1,10.7,11.3,11.9,12.5,13.1]],
  [35.6,[10.3,10.9,11.5,12.1,12.7,13.3]],[36.0,[10.5,11.1,11.7,12.3,12.9,13.5]],[36.4,[9.8,10.4,11.0,11.6,12.2,12.8]],
  [36.8,[8.8,9.4,10.0,10.6,11.2,11.8,12.4]],[37.2,[9.0,9.6,10.2,10.8,11.4,12.0,12.8]],[37.6,[9.1,9.7,10.3,10.9,11.5,12.1,12.7]],
  [38.0,[8.4,9.0,9.6,10.2,10.8,11.4]],[38.4,[9.5,10.5,11.5,12.2,12.9,13.6]],[38.8,[12.0,12.6,13.2,13.8,14.4]],
  [39.2,[12.3,12.9,13.5,14.1,14.7]],[39.6,[12.5,13.1,13.7,14.3,14.9]],[40.0,[11.5,12.2,12.9,13.6,14.3]],
  [40.4,[10.0,10.6,11.2,11.8,12.4]],[40.8,[8.0,9.0,9.8,10.6,11.2,11.8]],[41.2,[7.0,8.0,9.0,9.6,10.2,10.8,11.4]],
  [41.6,[9.6,10.2,10.8,11.4,12.0,12.6]],[42.0,[10.2,10.8,11.4,12.0,12.6]],[42.4,[10.6,11.2,11.8,12.4,13.0]],
  [42.8,[10.5,11.1,11.7,12.3,12.9,13.5]],[43.2,[9.3,9.9,10.5,11.1,11.7,12.3]],[43.6,[9.0,9.6,10.2,10.8,11.4,12.0]],
  [44.0,[10.2,10.8,11.4,12.0,12.6,13.0]],[44.4,[10.9,11.5,12.1,12.7,13.3]],[44.8,[10.8,11.4,12.0,12.6,13.2]],
  [45.2,[10.9,11.5,12.1,12.7,13.3]],[45.6,[11.0,11.6,12.2,12.8,13.4]],[46.0,[11.1,11.7,12.3,12.9]],
  [46.4,[11.2,11.8,12.4,13.0,13.6]],[46.8,[11.2,11.8,12.4,13.0,13.6]],[47.2,[11.5,12.1,12.7,13.3,13.9]],
  [47.6,[11.6,12.2,12.8,13.4]],[48.0,[11.7,12.3,12.9,13.5,14.1]],[48.4,[11.7,12.3,12.9,13.5]],
  [48.8,[11.8,12.4,13.0,13.6,14.2,14.7]],[49.2,[12.1,12.7,13.3,13.9,14.5,15.2]],[49.6,[11.9,12.5,13.1,13.7,14.3]],
  [50.0,[11.1,11.7,12.3,12.9,13.5]],[50.4,[10.3,10.9,11.5,12.1,12.7]],[50.8,[10.4,11.0,11.6,12.2,12.8]],
  [51.3,[10.9,11.5,12.1,12.7]],[51.7,[11.0,11.6,12.2,12.8,13.4,14.0]],[52.1,[10.5,11.1,11.7,12.3,12.9,13.5]],
  [52.45,[8.0,9.0,10.0,10.8,11.6,12.4]],[52.8,[10.4,11.0,11.6,12.2,12.8,13.4]],[53.2,[10.8,11.4,12.0,12.6,13.2,13.8,14.5]],
  [53.6,[10.2,10.8,11.4,12.0,12.6,13.2,13.9]],[54.0,[10.4,11.0,11.6,12.2]]
];

// Sample 12 (mirror #12), unit 1e-5
var s12Blue = [
  [0.1,[9.63]],[0.0,[6.75,7.05,7.35,7.65]],[0.3,[6.8,7.1,7.4,7.75]],[0.6,[6.5,6.8,7.1]],[1.0,[6.4,6.65,6.9]],
  [1.4,[6.3,6.55,6.8]],[1.8,[6.25,6.5,6.7]],[2.2,[6.15,6.4,6.6]],[2.6,[6.05,6.3,6.55]],[3.0,[6.0,6.25,6.45]],
  [3.4,[5.95,6.2,6.45]],[3.8,[5.85,6.1,6.4]],[4.2,[5.75,6.0,6.15]],[4.6,[5.7,5.95,6.1]],[5.0,[5.6,5.85,6.05]],
  [5.4,[5.5,5.75,5.95]],[5.8,[5.45,5.65,5.8]],[6.2,[5.35,5.55,5.7]],[6.6,[5.25,5.45,5.6]],[7.0,[5.15,5.35,5.5]],
  [7.4,[5.05,5.25,5.45]],[7.8,[4.95,5.15,5.3]],[8.2,[4.85,5.05,5.2]],[8.6,[4.75,4.95,5.1]],[9.0,[4.65,4.85,5.0]],
  [9.4,[4.55,4.75,4.9]],[9.8,[4.4,4.6,4.75]],[10.2,[4.25,4.45,4.6]],[10.6,[4.05,4.25,4.4]],
  [11.0,[3.65,3.85,4.1,4.3]],[11.4,[3.85,4.0,4.15]],[11.8,[3.75,3.9,4.0]],[12.2,[3.65,3.8,3.9]],
  [12.6,[3.6,3.75,3.85]],[13.0,[3.5,3.65,3.75]],[13.4,[3.4,3.55,3.65]],[13.7,[3.35,3.5]],[14.8,[3.25,3.4]],
  [15.2,[3.15,3.3]],[15.6,[3.05,3.2,3.3]],[16.0,[3.0,3.15]],[16.4,[2.95,3.1]],[16.8,[2.9,3.05]],
  [17.2,[2.85,3.0]],[17.6,[2.8,2.95]],[18.0,[2.8,2.9]],[18.4,[2.75,2.9]],[18.8,[2.7,2.85,3.87,6.22,6.34]],
  [19.2,[2.65,2.8]],[19.6,[2.6,2.75]],[20.0,[2.6,2.7]],[20.4,[2.6,2.7]],[20.8,[2.65,2.75]],
  [23.5,[0.1,0.4,0.7,1.0,1.3,1.6,1.9,2.2,2.5,2.8,3.1,3.4,3.7,4.0,4.3,4.5]],
  [23.8,[2.3,2.5,2.65]],[24.2,[2.1,2.3,2.5,2.6]],[24.4,[5.33]],[24.8,[2.3,2.45]],[26.0,[2.45]],
  [29.5,[2.1]],[33.3,[0.12]],[54.0,[1.23]]
];
var s12Red = [
  [25.0,[2.5,2.65]],[25.4,[2.55,2.7]],[25.8,[2.45,2.6]],[26.2,[2.3,2.45]],[26.6,[2.25,2.4]],[27.0,[2.2,2.35]],
  [27.4,[2.15,2.3]],[27.8,[2.3,2.45]],[28.2,[2.45,2.6]],[28.6,[2.5,2.65]],[29.0,[2.35,2.5]],[29.4,[2.2,2.35]],
  [29.8,[1.8,1.95,2.1]],[30.2,[2.25,2.4]],[30.6,[2.3,2.45]],[31.0,[2.35,2.5]],[31.4,[2.3,2.45]],[31.8,[2.25,2.4]],
  [32.2,[2.35,2.5]],[32.6,[2.3,2.45]],[33.0,[2.25,2.4]],[33.4,[1.8,1.95]],[33.8,[1.75,1.9]],[34.2,[2.0,2.15]],
  [34.6,[2.2,2.35]],[35.0,[2.25,2.4]],[35.4,[2.15,2.3]],[35.8,[1.7,1.85]],[36.2,[1.65,1.8]],[36.6,[2.1,2.25]],
  [37.0,[2.15,2.25]],[37.4,[2.2,2.35,2.5]],[37.6,[0.05,0.2,0.35,0.6,0.8,1.0,1.45,1.6,1.75,1.87,4.16]],
  [38.0,[1.55,1.7,1.85]],[38.2,[2.5]],[38.4,[1.5,1.65]],[38.8,[1.95,2.1]],[39.2,[1.95,2.05]],[39.6,[2.0,2.15]],
  [40.0,[1.95,2.1]],[40.4,[1.85,2.0]],[40.8,[1.5,1.65,1.75]],[41.2,[1.55,1.7]],[41.6,[1.7,1.85]],
  [42.0,[1.75,1.85]],[42.4,[1.7,1.8]],[42.8,[1.7,1.8]],[43.2,[1.65,1.8]],[43.6,[1.65,1.75]],[44.0,[1.6,1.75]],
  [44.4,[1.65,1.75]],[44.8,[1.6,1.7]],[45.2,[1.55,1.7]],[45.6,[1.6,1.7]],[46.0,[1.55,1.65]],[46.4,[1.5,1.65]],
  [46.8,[1.55,1.65]],[47.2,[1.5,1.6]],[47.6,[1.45,1.6]],[48.0,[1.5,1.6]],[48.4,[1.5,1.6]],[48.8,[1.45,1.55]],
  [49.2,[1.5,1.6]],[49.6,[1.45,1.55]],[50.0,[1.4,1.5]],[50.4,[1.35,1.5]],[50.8,[1.35,1.45]],
  [51.2,[0.1,0.25,0.4,0.55,0.7,0.85,1.0,1.3,1.4]],[51.6,[1.35,1.45]],[52.0,[1.3,1.45]],[52.4,[1.3,1.4]],
  [52.8,[1.25,1.4]],[53.2,[1.2,1.35]],[53.6,[1.3,1.45,1.6]],
  [25.2,[2.52,2.68]],[25.6,[2.5,2.65]],[26.0,[2.38,2.52]],[26.4,[2.28,2.42]],[26.8,[2.22,2.38]],[27.2,[2.18,2.32]],
  [27.6,[2.22,2.38]],[28.0,[2.38,2.52]],[28.4,[2.48,2.62]],[28.8,[2.42,2.58]],[29.2,[2.28,2.42]],[29.6,[1.95,2.1,2.25]],
  [30.0,[2.1,2.25,2.38]],[30.4,[2.28,2.42]],[30.8,[2.32,2.48]],[31.2,[2.32,2.48]],[31.6,[2.28,2.42]],[32.0,[2.3,2.45]],
  [32.4,[2.32,2.48]],[32.8,[2.28,2.42]],[33.2,[2.0,2.2]],[33.6,[1.78,1.92]],[34.0,[1.85,2.05]],[34.4,[2.12,2.28]],
  [34.8,[2.22,2.38]],[35.2,[2.2,2.35]],[35.6,[1.9,2.05,2.2]],[36.0,[1.65,1.8]],[36.4,[1.85,2.05]],[36.8,[2.12,2.25]],
  [37.2,[2.18,2.3]],[37.8,[1.6,1.8,2.55]],[38.6,[1.7,1.85,2.0]],[39.0,[1.95,2.08]],[39.4,[1.98,2.1]],[39.8,[1.98,2.12]],
  [40.2,[1.9,2.05]],[40.6,[1.6,1.75,1.9]],[41.0,[1.52,1.68]],[41.4,[1.62,1.78]],[41.8,[1.72,1.85]],[42.2,[1.72,1.82]],
  [42.6,[1.7,1.8]],[43.0,[1.68,1.8]],[43.4,[1.65,1.78]],[43.8,[1.62,1.75]],[44.2,[1.62,1.75]],[44.6,[1.62,1.72]],
  [45.0,[1.58,1.7]],[45.4,[1.58,1.7]],[45.8,[1.58,1.68]],[46.2,[1.52,1.65]],[46.6,[1.52,1.65]],[47.0,[1.52,1.62]],
  [47.4,[1.48,1.6]],[47.8,[1.48,1.6]],[48.2,[1.5,1.6]],[48.6,[1.48,1.58]],[49.0,[1.48,1.58]],[49.4,[1.48,1.58]],
  [49.8,[1.42,1.52]],[50.2,[1.38,1.5]],[50.6,[1.35,1.48]],[51.0,[1.35,1.45]],[51.4,[1.32,1.45]],[51.8,[1.32,1.45]],
  [52.2,[1.3,1.42]],[52.6,[1.28,1.4]],[53.0,[1.22,1.38]],[53.4,[1.25,1.4]],[53.8,[1.35,1.5]]
];

var redNames = ['750 V ( \u00d718.2)', '750 V ( \u00d712.2)', '750 V ( \u00d720.3)', '750 V ( \u00d717.3)'];

// 把 [x, [y...]] 展开成散点
function expand(cols, unit) {
  var out = [];
  cols.forEach(function (c) {
    c[1].forEach(function (v) { out.push([c[0], v * unit]); });
  });
  return out;
}

var panels = [
  { left: 89.3, top: 40.7, width: 569.5, xMax: 55.2, yMin: 0.0000064, yMax: 0.0009775, ticks: s1Ticks, digits: 4,
    blue: expand(s1Blue, 1e-4), red: expand(s1Red, 1e-4), nameGap: 61,
    title: 'Fused silica rod', titleX: 90, sub: 'Sample 1', legend: [96.7, 279.3] },
  { left: 771.3, top: 40.7, width: 568, xMax: 55.0, yMin: 0, yMax: 0.00000659, ticks: s10Ticks, digits: 6,
    blue: expand(s10Blue, 1e-6), red: expand(s10Red, 1e-6), nameGap: 80,
    title: 'Mirror, #10', titleX: 782, sub: 'Sample 10', legend: [779.4, 279.3] },
  { left: 89.3, top: 405, width: 569.5, xMax: 55.2, yMin: 0, yMax: 0.0000284, ticks: s11Ticks, digits: 6,
    blue: expand(s11Blue, 1e-6), red: expand(s11Red, 1e-6), nameGap: 80,
    title: 'Mirror, #11', titleX: 90, sub: 'Sample 11', legend: [471, 412.7] },
  { left: 771.3, top: 405, width: 568, xMax: 55.0, yMin: 0, yMax: 0.0001046, ticks: s12Ticks, digits: 5,
    blue: expand(s12Blue, 1e-5), red: expand(s12Red, 1e-5), nameGap: 80,
    title: 'Mirror, #12', titleX: 775, sub: 'Sample 12', legend: [1153, 412.7] }
];

var chart = echarts.init(document.getElementById('main'), null, { renderer: 'canvas' });

var tickFont = { color: '#222', fontFamily: 'DejaVu Sans', fontSize: 13.4 };
var grids = [], xAxes = [], yAxes = [], series = [], graphics = [];

panels.forEach(function (p, i) {
  grids.push({ left: p.left, top: p.top, width: p.width, height: 302.6, show: true,
    containLabel: false, outerBoundsMode: 'none',
    borderColor: '#000', borderWidth: 1, backgroundColor: 'transparent' });

  xAxes.push({
    gridIndex: i, type: 'value', min: -0.2, max: p.xMax,
    axisLine: { show: true, onZero: false, lineStyle: { color: '#000', width: 1 } },
    axisTick: { show: true, inside: true, length: 5, customValues: xTicks, lineStyle: { color: '#000' } },
    axisLabel: Object.assign({ customValues: xTicks, margin: 5 }, tickFont),
    splitLine: { show: true, lineStyle: { color: '#9a9a9a', width: 1, type: [1, 3] } },
    name: 'fb{s|\u22121}', nameLocation: 'middle', nameGap: 24,
    nameTextStyle: { color: '#222', fontFamily: 'DejaVu Sans', fontSize: 11,
      rich: { s: { fontSize: 8, fontFamily: 'DejaVu Sans', color: '#222', padding: [0, 0, 7, 0] } } }
  });

  yAxes.push({
    gridIndex: i, type: 'value', min: p.yMin, max: p.yMax,
    axisLine: { show: true, onZero: false, lineStyle: { color: '#000', width: 1 } },
    axisTick: { show: true, inside: true, length: 5, customValues: p.ticks, lineStyle: { color: '#000' } },
    axisLabel: Object.assign({ customValues: p.ticks, margin: 6,
      formatter: (function (d) { return function (v) { return v.toFixed(d); }; })(p.digits) }, tickFont),
    splitLine: { show: true, lineStyle: { color: '#9a9a9a', width: 1, type: [1, 3] } },
    name: '-mV/(Hz/\u03bcub', nameLocation: 'middle', nameRotate: 90, nameGap: p.nameGap,
    nameTextStyle: { color: '#222', fontFamily: 'DejaVu Sans', fontSize: 13.4 }
  });

  series.push({
    type: 'scatter', name: '1250 V', xAxisIndex: i, yAxisIndex: i, data: p.blue,
    symbol: 'rect', symbolSize: 8, z: 2,
    itemStyle: { color: '#0000ff', borderColor: '#000', borderWidth: 1.2, opacity: 1 }
  });
  series.push({
    type: 'scatter', name: redNames[i], xAxisIndex: i, yAxisIndex: i, data: p.red,
    symbol: 'circle', symbolSize: 5.5, z: 3,
    itemStyle: { color: '#ff0000', opacity: 0.6 }
  });

  // 大标题和小标题
  graphics.push({ type: 'text', x: p.titleX, y: p.top - 20, z: 100,
    style: { text: p.title, fontFamily: 'Liberation Sans', fontSize: 29, fill: '#000', align: 'left', verticalAlign: 'middle' } });
  graphics.push({ type: 'text', x: p.left + p.width / 2, y: p.top - 11, z: 100,
    style: { text: p.sub, fontFamily: 'DejaVu Sans', fontSize: 16, fill: '#222', align: 'center', verticalAlign: 'middle' } });

  // 图例框
  var lx = p.legend[0], ly = p.legend[1];
  graphics.push({ type: 'rect', z: 100, shape: { x: lx, y: ly, width: 179, height: 56 },
    style: { fill: '#fff', stroke: '#333', lineWidth: 1 } });
  graphics.push({ type: 'rect', z: 101, shape: { x: lx + 19, y: ly + 10, width: 8, height: 8 },
    style: { fill: '#0000ff', stroke: '#000', lineWidth: 0.7 } });
  graphics.push({ type: 'circle', z: 101, shape: { cx: lx + 23, cy: ly + 40, r: 2.5 },
    style: { fill: 'rgba(255,0,0,0.6)' } });
  graphics.push({ type: 'text', z: 101, x: lx + 54, y: ly + 14,
    style: { text: '1250 V', fontFamily: 'DejaVu Sans', fontSize: 16, fill: '#111', verticalAlign: 'middle' } });
  graphics.push({ type: 'text', z: 101, x: lx + 54, y: ly + 40,
    style: { text: redNames[i], fontFamily: 'DejaVu Sans', fontSize: 16, fill: '#111', verticalAlign: 'middle' } });
});

// slide text around the plots
graphics.push({ type: 'text', x: 617, y: 14, z: 100,
  style: { text: 'barrel', fontFamily: 'Liberation Serif', fontStyle: 'italic', fontSize: 56, fill: '#000', verticalAlign: 'middle' } });
graphics.push({ type: 'text', x: 2, y: 738, z: 100,
  style: { text: 'd in TAN at different', fontFamily: 'Liberation Sans', fontSize: 27.5, fill: '#666', verticalAlign: 'middle' } });

chart.setOption({
  animation: false,
  backgroundColor: '#fff',
  grid: grids,
  xAxis: xAxes,
  yAxis: yAxes,
  series: series,
  graphic: { elements: graphics }
});
</script>
</body>
</html>
